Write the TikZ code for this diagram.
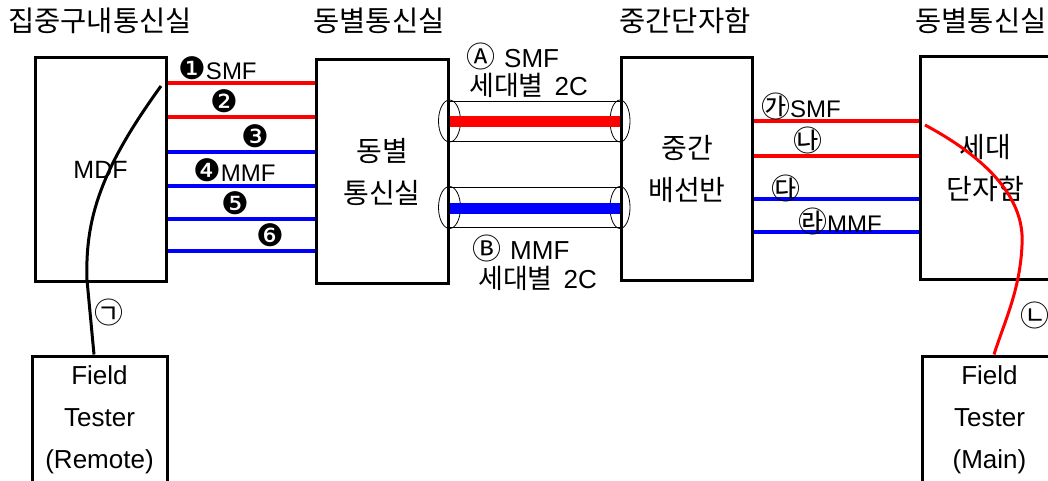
\documentclass[tikz,border=0pt]{standalone}
\usepackage{fontspec}
\setmainfont{Liberation Sans}
\newfontfamily\kr{Noto Sans CJK KR}
\newfontfamily\dv{DejaVu Sans}
\newcommand\dig[1]{{\dv\fontsize{31}{32}\selectfont#1}}
\newcommand\jm[1]{{\kr\fontsize{29}{30}\selectfont#1}}
\begin{document}
\begin{tikzpicture}[x=1pt,y=-1pt,
  unitbox/.style={draw,line width=3pt,minimum width=131,minimum height=222,inner sep=0pt,align=center,font=\fontsize{25}{42}\selectfont},
  krbox/.style={unitbox,font=\kr\fontsize{28}{42}\selectfont},
  tester/.style={unitbox,minimum width=135,minimum height=128,font=\fontsize{26}{42}\selectfont},
  roomtitle/.style={font=\kr\fontsize{28.5}{30}\selectfont},
  lbl/.style={anchor=base west,inner sep=0pt,font=\fontsize{24}{28}\selectfont},
  cablelbl/.style={lbl,font=\fontsize{26}{28}\selectfont},
  jamo/.style={inner sep=0pt,font=\kr\fontsize{29}{30}\selectfont},
  fiber/.style={line width=3.5pt},
  cable/.style={line width=11pt}]
\useasboundingbox (0,0) rectangle (1048,481);
\clip (0,0) rectangle (1048,481);
\node[roomtitle] (t1) at (100,21) {집중구내통신실};
\node[roomtitle] (t2) at (379,21) {동별통신실};
\node[roomtitle] (t3) at (685,21) {중간단자함};
\node[roomtitle] (t4) at (981,21) {동별통신실};
\node[unitbox,minimum height=223] (mdf) at (100.5,169.5) {MDF};
\node[krbox,minimum width=132,minimum height=223] (dong) at (382,171.5) {동별\\통신실};
\node[krbox] (jung) at (687,169) {중간\\배선반};
\node[krbox] (sede) at (985.5,168) {세대\\단자함};
\node[tester] (rem) at (99.5,420) {Field\\Tester\\(Remote)};
\node[tester] (main) at (989.5,420) {Field\\Tester\\(Main)};
\foreach \y/\c in {83/red,117/red,152/blue,186/blue,219/blue,251/blue}
  \draw[fiber,\c] (mdf.east |- 0,\y) -- (dong.west |- 0,\y);
\foreach \y/\c in {121/red,156/red,199/blue,232/blue}
  \draw[fiber,\c] (jung.east |- 0,\y) -- (sede.west |- 0,\y);
\foreach \y/\c in {121/red,207.5/blue} {
  \draw[line width=0.8pt] (dong.east |- 0,\y-20) -- (jung.west |- 0,\y-20) (dong.east |- 0,\y+20) -- (jung.west |- 0,\y+20);
  \draw[line width=0.8pt] (dong.east |- 0,\y) ellipse [x radius=11pt,y radius=21pt] (jung.west |- 0,\y) ellipse [x radius=10pt,y radius=21pt];
  \draw[cable,\c] (dong.east |- 0,\y+1) -- (jung.west |- 0,\y+1);
}
\node[lbl] (f1) at (178,80) {\dig{❶}SMF};
\node[lbl] (f2) at (210,113) {\dig{❷}};
\node[lbl] (f3) at (241,148) {\dig{❸}};
\node[lbl] (f4) at (193,182) {\dig{❹}MMF};
\node[lbl] (f5) at (221,214) {\dig{❺}};
\node[lbl] (f6) at (256,246) {\dig{❻}};
\node[lbl] (g1) at (761,118) {\jm{㉮}SMF};
\node[lbl] (g2) at (793,152) {\jm{㉯}};
\node[lbl] (g3) at (771,199) {\jm{㉰}};
\node[lbl] (g4) at (798,232) {\jm{㉱}MMF};
\node[cablelbl] (ca1) at (466,68) {{\kr\fontsize{29}{30}\selectfont Ⓐ}\hspace{9pt}SMF};
\node[cablelbl] (ca2) at (469,96) {{\kr\fontsize{27}{28}\selectfont 세대별}\hspace{11pt}2C};
\node[cablelbl] (cb1) at (472,259) {{\kr\fontsize{29}{30}\selectfont Ⓑ}\hspace{9pt}MMF};
\node[cablelbl] (cb2) at (478,288) {{\kr\fontsize{27}{28}\selectfont 세대별}\hspace{11pt}2C};
\node[jamo] (c1) at (109,312) {㉠};
\node[jamo] (c2) at (1035,315) {㉡};
\coordinate (mdfport) at (161,86);
\coordinate (sedeport) at (925,125);
\draw[line width=3pt] (mdfport) .. controls (100,170) and (85,220) .. (87,280) -- ([xshift=-5.5pt]rem.north);
\draw[red,line width=3pt] (sedeport) .. controls (990,160) and (1025,200) .. (1022,245) .. controls (1020,290) and (1005,320) .. ([xshift=4.5pt]main.north);
\end{tikzpicture}
\end{document}
